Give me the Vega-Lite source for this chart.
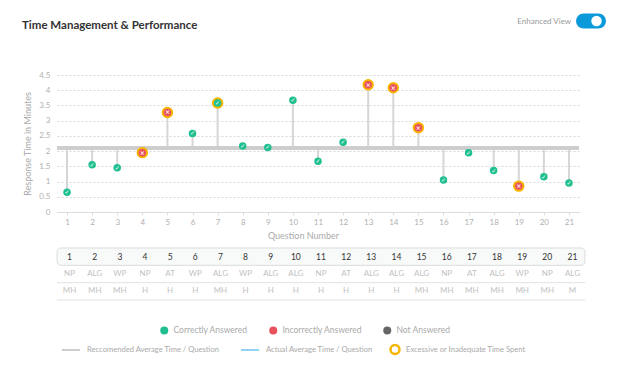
{
  "$schema": "https://vega.github.io/schema/vega-lite/v6.json",
  "padding": {"left": 22, "top": 13, "right": 0, "bottom": 0},
  "background": "#ffffff",
  "datasets": {
    "questions": [
      {"q": 1, "time": 0.65, "status": "Correctly Answered", "timing": "Adequate", "topic": "NP", "diff": "MH"},
      {"q": 2, "time": 1.55, "status": "Correctly Answered", "timing": "Adequate", "topic": "ALG", "diff": "MH"},
      {"q": 3, "time": 1.45, "status": "Correctly Answered", "timing": "Adequate", "topic": "WP", "diff": "MH"},
      {"q": 4, "time": 1.95, "status": "Incorrectly Answered", "timing": "Excessive or Inadequate Time Spent", "topic": "NP", "diff": "H"},
      {"q": 5, "time": 3.27, "status": "Incorrectly Answered", "timing": "Excessive or Inadequate Time Spent", "topic": "AT", "diff": "H"},
      {"q": 6, "time": 2.58, "status": "Correctly Answered", "timing": "Adequate", "topic": "WP", "diff": "H"},
      {"q": 7, "time": 3.58, "status": "Correctly Answered", "timing": "Excessive or Inadequate Time Spent", "topic": "ALG", "diff": "MH"},
      {"q": 8, "time": 2.17, "status": "Correctly Answered", "timing": "Adequate", "topic": "WP", "diff": "H"},
      {"q": 9, "time": 2.12, "status": "Correctly Answered", "timing": "Adequate", "topic": "ALG", "diff": "H"},
      {"q": 10, "time": 3.67, "status": "Correctly Answered", "timing": "Adequate", "topic": "ALG", "diff": "H"},
      {"q": 11, "time": 1.67, "status": "Correctly Answered", "timing": "Adequate", "topic": "NP", "diff": "H"},
      {"q": 12, "time": 2.29, "status": "Correctly Answered", "timing": "Adequate", "topic": "AT", "diff": "H"},
      {"q": 13, "time": 4.18, "status": "Incorrectly Answered", "timing": "Excessive or Inadequate Time Spent", "topic": "ALG", "diff": "H"},
      {"q": 14, "time": 4.08, "status": "Incorrectly Answered", "timing": "Excessive or Inadequate Time Spent", "topic": "ALG", "diff": "H"},
      {"q": 15, "time": 2.77, "status": "Incorrectly Answered", "timing": "Excessive or Inadequate Time Spent", "topic": "ALG", "diff": "MH"},
      {"q": 16, "time": 1.05, "status": "Correctly Answered", "timing": "Adequate", "topic": "NP", "diff": "MH"},
      {"q": 17, "time": 1.95, "status": "Correctly Answered", "timing": "Adequate", "topic": "AT", "diff": "MH"},
      {"q": 18, "time": 1.36, "status": "Correctly Answered", "timing": "Adequate", "topic": "ALG", "diff": "MH"},
      {"q": 19, "time": 0.85, "status": "Incorrectly Answered", "timing": "Excessive or Inadequate Time Spent", "topic": "WP", "diff": "MH"},
      {"q": 20, "time": 1.16, "status": "Correctly Answered", "timing": "Adequate", "topic": "NP", "diff": "MH"},
      {"q": 21, "time": 0.95, "status": "Correctly Answered", "timing": "Adequate", "topic": "ALG", "diff": "M"}
    ]
  },
  "bounds": "flush",
  "spacing": 36,
  "vconcat": [
    {
      "width": 522,
      "height": 26,
      "layer": [
        {
          "data": {"values": [{"label": "Time Management & Performance"}]},
          "mark": {"type": "text", "align": "left", "baseline": "middle", "fontSize": 11.5, "fontWeight": "bold", "color": "#333333", "font": "Lato"},
          "encoding": {
            "x": {"datum": -0.067, "type": "quantitative", "scale": {"domain": [0, 1], "nice": false, "zero": false}, "axis": null},
            "y": {"datum": 13.5, "type": "quantitative", "scale": {"domain": [0, 26], "nice": false, "zero": false}, "axis": null},
            "text": {"field": "label"}
          }
        },
        {
          "data": {"values": [{"label": "Enhanced View"}]},
          "mark": {"type": "text", "align": "right", "baseline": "middle", "fontSize": 8, "color": "#999999", "font": "Lato"},
          "encoding": {
            "x": {"datum": 0.985, "type": "quantitative"},
            "y": {"datum": 17, "type": "quantitative"},
            "text": {"field": "label"}
          }
        },
        {
          "data": {"values": [{"label": "toggle"}]},
          "mark": {"type": "rule", "strokeWidth": 15, "strokeCap": "round", "color": "#0a9ad9"},
          "encoding": {
            "x": {"datum": 1.0086, "type": "quantitative"},
            "x2": {"datum": 1.0374},
            "y": {"datum": 18, "type": "quantitative"}
          }
        },
        {
          "data": {"values": [{"label": "toggle"}]},
          "mark": {"type": "point", "filled": true, "size": 110, "color": "#ffffff", "opacity": 1},
          "encoding": {
            "x": {"datum": 1.0335, "type": "quantitative"},
            "y": {"datum": 18, "type": "quantitative"}
          }
        }
      ]
    },
    {
      "width": 522,
      "height": 137,
      "data": {"name": "questions"},
      "encoding": {
        "x": {
          "field": "q", "type": "quantitative",
          "scale": {"domain": [0.6, 21.4], "nice": false, "zero": false},
          "axis": {
            "values": [1,2,3,4,5,6,7,8,9,10,11,12,13,14,15,16,17,18,19,20,21],
            "tickCount": 21,
            "format": "d", "grid": false, "labelOverlap": false, "labelFlush": false,
            "labelFontSize": 8, "labelColor": "#b0b0b0", "labelPadding": 3,
            "tickColor": "#dddddd", "tickSize": 3, "domainColor": "#dcdcdc",
            "title": "Question Number", "titleFontSize": 9, "titleColor": "#aaaaaa",
            "titleFontWeight": "normal", "titlePadding": 5, "titleX": 246
          }
        },
        "y": {
          "field": "time", "type": "quantitative",
          "scale": {"domain": [0, 4.5], "nice": false},
          "axis": {
            "values": [0, 0.5, 1, 1.5, 2, 2.5, 3, 3.5, 4, 4.5],
            "tickCount": 10,
            "format": ".1~f", "grid": true, "gridDash": [2, 2], "gridColor": "#d9d9d9",
            "domain": false, "ticks": false, "labelPadding": 7,
            "labelOverlap": false, "labelFlush": false, "labelBound": false,
            "labelFontSize": 8, "labelColor": "#b0b0b0",
            "title": "Response Time in Minutes", "titleFontSize": 9, "titleColor": "#aaaaaa",
            "titleFontWeight": "normal", "titlePadding": 6
          }
        }
      },
      "layer": [
        {
          "mark": {"type": "rule", "color": "#d6d6d6", "strokeWidth": 2},
          "encoding": {
            "y2": {"datum": 2.1}
          }
        },
        {
          "mark": {"type": "rule", "strokeWidth": 3},
          "encoding": {
            "x": {"datum": 0.6, "type": "quantitative"},
            "x2": {"datum": 21.4},
            "y": {"datum": 2.1, "type": "quantitative"},
            "color": {
              "datum": "Reccomended Average Time / Question", "type": "nominal",
              "scale": {
                "domain": ["Reccomended Average Time / Question", "Actual Average Time / Question"],
                "range": ["#cdcdcd", "#8fd3f5"]
              },
              "legend": {
                "orient": "none", "legendX": 4, "legendY": 327, "direction": "horizontal",
                "title": null, "padding": 0, "symbolType": "stroke", "symbolSize": 324,
                "symbolStrokeWidth": 2, "labelOffset": 6, "columnPadding": 17,
                "gridAlign": "each", "labelFontSize": 7.6, "labelColor": "#aaaaaa",
                "labelFont": "Lato", "labelLimit": 250
              }
            }
          }
        },
        {
          "transform": [{"filter": "datum.timing !== 'Adequate'"}],
          "mark": {"type": "point", "filled": false, "size": 80, "strokeWidth": 2.5, "opacity": 1},
          "encoding": {
            "stroke": {
              "field": "timing", "type": "nominal",
              "scale": {
                "domain": ["Excessive or Inadequate Time Spent"],
                "range": ["#f7b500"]
              },
              "legend": {
                "orient": "none", "legendX": 332, "legendY": 330.5, "direction": "horizontal",
                "title": null, "padding": 0, "symbolType": "circle", "symbolSize": 80,
                "symbolStrokeWidth": 2.5, "symbolFillColor": "transparent",
                "labelOffset": 5, "labelFontSize": 7.6, "labelColor": "#aaaaaa",
                "labelFont": "Lato", "labelLimit": 250
              }
            }
          }
        },
        {
          "mark": {"type": "point", "filled": true, "size": 56, "opacity": 1},
          "encoding": {
            "fill": {
              "field": "status", "type": "nominal",
              "scale": {
                "domain": ["Correctly Answered", "Incorrectly Answered", "Not Answered"],
                "range": ["#1fbf8f", "#e8505b", "#666666"]
              },
              "legend": {
                "orient": "none", "legendX": 103, "legendY": 313, "direction": "horizontal",
                "title": null, "padding": 0, "symbolSize": 64, "symbolType": "circle",
                "symbolStrokeWidth": 0, "labelOffset": 5, "columnPadding": 21,
                "gridAlign": "each", "labelFontSize": 8.5, "labelColor": "#aaaaaa", "labelFont": "Lato"
              }
            }
          }
        },
        {
          "mark": {"type": "text", "color": "#ffffff", "fontSize": 6, "fontWeight": "bold", "font": "DejaVu Sans", "baseline": "middle", "align": "center"},
          "encoding": {
            "text": {"condition": {"test": "datum.status === 'Correctly Answered'", "value": "✓"}, "value": "×"}
          }
        },
        {
          "data": {"values": [{"label": "Your Average"}]},
          "mark": {"type": "text", "align": "left", "baseline": "middle", "dx": 3.5, "fontSize": 9, "fontWeight": 600, "color": "#9a9a9a", "lineBreak": " ", "lineHeight": 11.5, "font": "Lato"},
          "encoding": {
            "x": {"datum": 21.4, "type": "quantitative"},
            "y": {"datum": 2.1, "type": "quantitative"},
            "text": {"field": "label"}
          }
        }
      ]
    },
    {
      "width": 528,
      "height": 52,
      "data": {"name": "questions"},
      "transform": [{"fold": ["q", "topic", "diff"], "as": ["row", "val"]}],
      "layer": [
        {
          "transform": [
            {"filter": "datum.row === 'q'"},
            {"aggregate": [{"op": "count", "as": "n"}], "groupby": ["row"]}
          ],
          "mark": {"type": "rect", "fill": "#f8f9f9", "stroke": "#d9dcdc", "strokeWidth": 1, "cornerRadius": 4},
          "encoding": {
            "y": {"field": "row", "type": "nominal", "scale": {"domain": ["q", "topic", "diff"], "paddingInner": 0, "paddingOuter": 0}, "axis": null}
          }
        },
        {
          "transform": [
            {"filter": "datum.row !== 'q'"},
            {"aggregate": [{"op": "count", "as": "n"}], "groupby": ["row"]}
          ],
          "mark": {"type": "rule", "color": "#e2e2e2", "strokeWidth": 1},
          "encoding": {
            "y": {"field": "row", "type": "nominal", "bandPosition": 1}
          }
        },
        {
          "mark": {"type": "text", "baseline": "middle", "align": "center", "font": "Lato"},
          "encoding": {
            "x": {"field": "q", "type": "ordinal", "scale": {"domain": [1,2,3,4,5,6,7,8,9,10,11,12,13,14,15,16,17,18,19,20,21], "paddingInner": 0, "paddingOuter": 0}, "axis": null},
            "y": {"field": "row", "type": "nominal"},
            "text": {"field": "val"},
            "color": {"condition": {"test": "datum.row === 'q'", "value": "#333333"}, "value": "#c2c2c2"},
            "size": {"condition": {"test": "datum.row === 'q'", "value": 8.5}, "value": 8}
          }
        }
      ]
    }
  ],
  "config": {
    "view": {"stroke": null},
    "font": "Lato",
    "axis": {"labelFont": "Lato", "titleFont": "Lato"},
    "legend": {"labelFont": "Lato"}
  }
}
